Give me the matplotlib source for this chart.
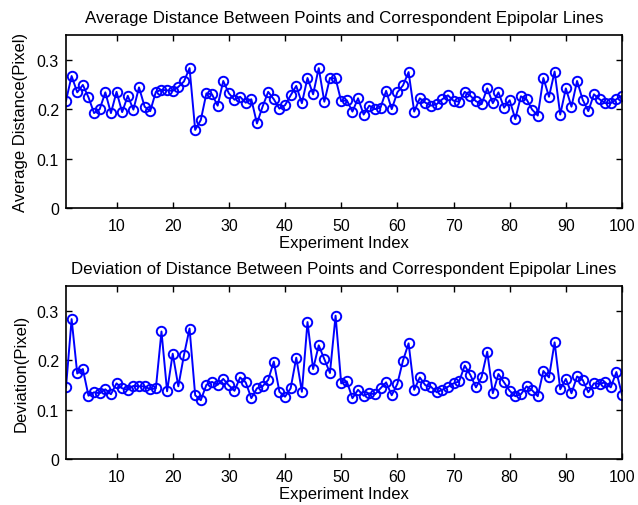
import matplotlib
matplotlib.use('Agg')
import matplotlib.pyplot as plt
import numpy as np

plt.rcParams['font.family'] = ['Liberation Sans', 'DejaVu Sans']

idx = np.arange(1, 101)

avg_dist = [0.217, 0.267, 0.234, 0.249, 0.224, 0.192, 0.200, 0.234, 0.192, 0.235,
            0.194, 0.227, 0.199, 0.244, 0.205, 0.196, 0.235, 0.239, 0.238, 0.237,
            0.245, 0.256, 0.283, 0.158, 0.178, 0.232, 0.230, 0.207, 0.257, 0.232,
            0.219, 0.225, 0.213, 0.220, 0.171, 0.205, 0.235, 0.220, 0.201, 0.208,
            0.228, 0.247, 0.212, 0.263, 0.230, 0.283, 0.215, 0.263, 0.262, 0.216,
            0.218, 0.195, 0.222, 0.189, 0.207, 0.200, 0.203, 0.237, 0.200, 0.234,
            0.248, 0.275, 0.195, 0.222, 0.213, 0.207, 0.210, 0.220, 0.228, 0.217,
            0.215, 0.235, 0.227, 0.216, 0.210, 0.242, 0.212, 0.234, 0.203, 0.218,
            0.180, 0.226, 0.220, 0.199, 0.187, 0.263, 0.225, 0.276, 0.189, 0.242,
            0.205, 0.257, 0.219, 0.196, 0.230, 0.220, 0.212, 0.212, 0.220, 0.227]

dev_dist = [0.145, 0.283, 0.173, 0.182, 0.128, 0.135, 0.133, 0.141, 0.131, 0.153,
            0.143, 0.140, 0.148, 0.147, 0.147, 0.141, 0.143, 0.258, 0.137, 0.213,
            0.147, 0.210, 0.264, 0.129, 0.119, 0.150, 0.156, 0.150, 0.162, 0.149,
            0.138, 0.165, 0.155, 0.123, 0.143, 0.147, 0.160, 0.197, 0.136, 0.126,
            0.143, 0.205, 0.136, 0.277, 0.182, 0.230, 0.202, 0.174, 0.290, 0.153,
            0.157, 0.123, 0.140, 0.128, 0.133, 0.131, 0.143, 0.155, 0.129, 0.152,
            0.199, 0.234, 0.140, 0.165, 0.149, 0.146, 0.135, 0.140, 0.146, 0.153,
            0.157, 0.189, 0.170, 0.145, 0.166, 0.217, 0.133, 0.172, 0.155, 0.138,
            0.127, 0.131, 0.147, 0.139, 0.127, 0.178, 0.165, 0.236, 0.141, 0.162,
            0.133, 0.167, 0.160, 0.135, 0.153, 0.152, 0.155, 0.145, 0.176, 0.130]

titles = ['Average Distance Between Points and Correspondent Epipolar Lines',
          'Deviation of Distance Between Points and Correspondent Epipolar Lines']
ylabels = ['Average Distance(Pixel)', 'Deviation(Pixel)']

W, H = 638, 506
fig = plt.figure(figsize=(W/100, H/100), dpi=100)
boxes = [(66, 36, 622, 209), (66, 287, 622, 460)]
for (l, t, r, b), ys, ttl, yl in zip(boxes, [avg_dist, dev_dist], titles, ylabels):
    ax = fig.add_axes([l/W, 1 - b/H, (r - l)/W, (b - t)/H])
    ax.plot(idx, ys, '-o', color='#0000ff', lw=1.4, ms=6.8, mfc='none', mew=1.4)
    ax.set_xlim(1, 100); ax.set_ylim(0, 0.35)
    ax.set_xticks(np.arange(10, 101, 10)); ax.set_yticks([0, 0.1, 0.2, 0.3])
    ax.set_yticklabels(['0', '0.1', '0.2', '0.3'])
    ax.tick_params(direction='in', top=True, right=True, labelsize=11.5, length=4, width=1, pad=5)
    ax.tick_params(axis='x', pad=7)
    for s in ax.spines.values(): s.set_linewidth(1.2)
    ax.set_title(ttl, fontsize=12.2, pad=9)
    ax.set_xlabel('Experiment Index', fontsize=12, labelpad=1.5)
    ax.set_ylabel(yl, fontsize=12, labelpad=6)

fig.savefig('out.png', dpi=100)
